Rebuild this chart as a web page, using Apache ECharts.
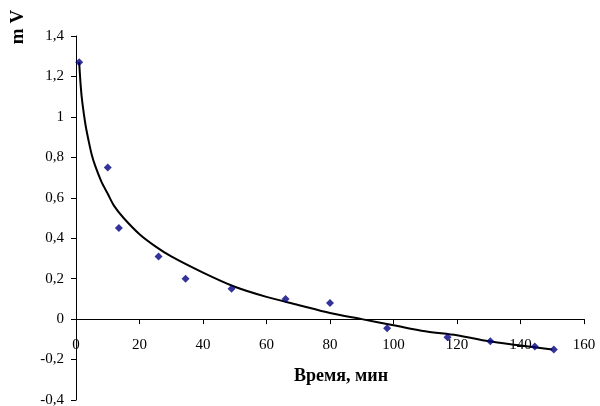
<!DOCTYPE html>
<html><head><meta charset="utf-8">
<script src="https://cdn.jsdelivr.net/npm/echarts@6/dist/echarts.min.js"></script>
<style>html,body{margin:0;padding:0;background:#fff}#c{width:600px;height:406px}</style>
</head><body><div id="c"></div>
<script>
// measured points
var timeMin = [1, 10, 13.5, 26, 34.5, 49, 66, 80, 98, 117, 130.5, 144.5, 150.5];
var mV = [1.27, 0.75, 0.45, 0.31, 0.20, 0.15, 0.10, 0.08, -0.045, -0.09, -0.11, -0.135, -0.15];
// trend line
var trendX = [1, 1.5, 2, 3, 4, 5, 6, 8, 10, 12, 15, 20, 25, 30, 40, 50, 60, 70, 80, 90, 100, 110, 120, 130, 140, 150];
var trendY = [1.27, 1.15, 1.07, 0.96, 0.88, 0.81, 0.76, 0.68, 0.62, 0.56, 0.50, 0.42, 0.36, 0.31, 0.23, 0.16, 0.11, 0.07, 0.03, 0.00, -0.03, -0.06, -0.08, -0.11, -0.13, -0.15];
var xTitle = 'Время, мин';
var yTitle = 'm V';
var yMin = -0.4, yMax = 1.4;

var W = 600, H = 406;
var gridL = 76, gridR = 16, gridT = 36, gridB = 6;
var chart = echarts.init(document.getElementById('c'), null, {renderer: 'canvas'});
var font = 'Liberation Serif';
function fmt(v){ return String(Math.round(v*10)/10).replace('.', ','); }
// place x axis at value 0 (Excel style crossing)
var plotH = H - gridT - gridB;
var zeroOffset = -plotH * (0 - yMin) / (yMax - yMin);
chart.setOption({
  animation: false,
  grid: {left: gridL, right: gridR, top: gridT, bottom: gridB, containLabel: false, outerBoundsMode: 'none'},
  xAxis: {
    type: 'value', min: 0, max: 160, interval: 20, position: 'bottom', offset: zeroOffset,
    axisLine: {onZero: false, lineStyle: {color: '#000', width: 1}},
    axisTick: {show: true, inside: false, length: 5, lineStyle: {color: '#000'}},
    axisLabel: {color: '#000', fontFamily: font, fontSize: 15, margin: 18, formatter: fmt},
    splitLine: {show: false}
  },
  yAxis: {
    type: 'value', min: yMin, max: yMax, interval: 0.2,
    axisLine: {onZero: false, lineStyle: {color: '#000', width: 1}},
    axisTick: {show: true, length: 5, lineStyle: {color: '#000'}},
    axisLabel: {color: '#000', fontFamily: font, fontSize: 15, margin: 12, formatter: fmt},
    splitLine: {show: false}
  },
  graphic: [{
    type: 'text', x: 18, y: 27, rotation: Math.PI/2,
    style: {text: yTitle, fill: '#000', font: 'bold 19px "Liberation Serif"', textAlign: 'center', textVerticalAlign: 'middle'}
  }, {
    type: 'text', x: 341, y: 376,
    style: {text: xTitle, fill: '#000', font: 'bold 18px "Liberation Serif"', textAlign: 'center', textVerticalAlign: 'middle'}
  }],
  series: [{
    type: 'line', data: trendX.map(function(x,i){return [x, trendY[i]];}),
    smooth: 0.3, showSymbol: false, lineStyle: {color: '#000', width: 2}, z: 2
  }, {
    type: 'scatter', data: timeMin.map(function(x,i){return [x, mV[i]];}),
    symbol: 'diamond', symbolSize: 8, itemStyle: {color: '#000080'}, z: 3
  }]
});
</script></body></html>
